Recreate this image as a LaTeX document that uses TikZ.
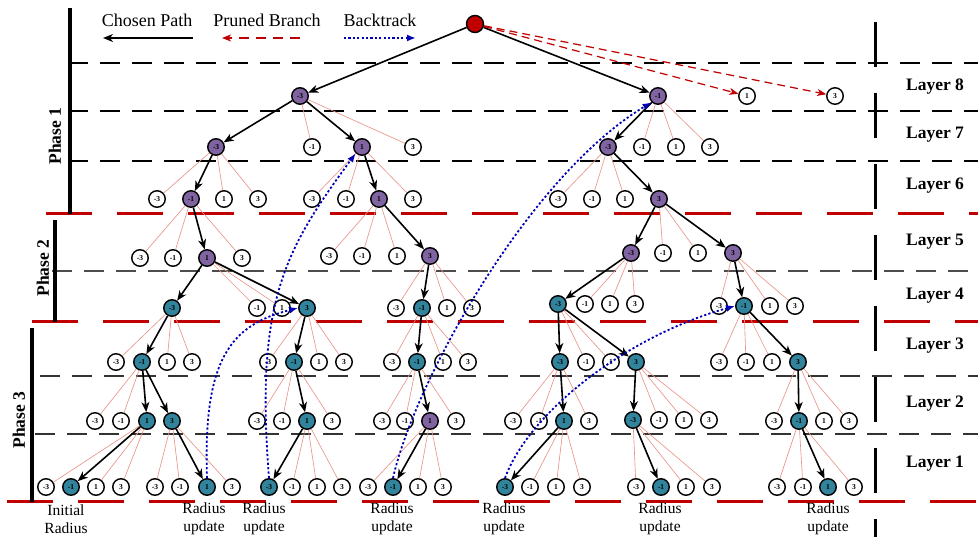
\documentclass[tikz,border=0pt]{standalone}
\usepackage{fontspec}
\setmainfont{Liberation Serif}
\usetikzlibrary{arrows.meta}
\definecolor{purp}{HTML}{8064A2}
\definecolor{tealn}{HTML}{31849B}
\definecolor{rootred}{HTML}{C00000}
\definecolor{twigred}{HTML}{E8958A}
\definecolor{btblue}{HTML}{0000B4}
\begin{document}
\begin{tikzpicture}[x=1pt,y=-1pt,
  nd/.style={circle,draw=black,line width=1.4pt,minimum size=16.5pt,inner sep=0pt,fill=white,
             font=\fontsize{7.5}{7.5}\selectfont\bfseries},
  pu/.style={nd,fill=purp},
  te/.style={nd,fill=tealn},
  chosen/.style={draw=black,line width=1.6pt,-{Stealth[length=10pt,width=8pt,inset=3pt]}},
  twig/.style={draw=twigred,line width=0.65pt},
  pruned/.style={draw=rootred,line width=1.2pt,dash pattern=on 8pt off 5pt,
                 -{Stealth[length=9pt,width=7pt,inset=2.5pt]}},
  back/.style={draw=btblue,line width=1.8pt,dash pattern=on 2.2pt off 2.2pt,
               -{Latex[length=9pt,width=7pt]}},
  layerline/.style={line width=1.3pt,dash pattern=on 20pt off 12pt},
  phaseline/.style={draw=rootred,line width=3pt,dash pattern=on 46pt off 25pt},
  phasebar/.style={line width=3.5pt},
  phaselabel/.style={rotate=90,font=\bfseries\fontsize{17.5}{18}\selectfont},
  layerlabel/.style={font=\bfseries\fontsize{17.5}{18}\selectfont},
  legendtext/.style={anchor=base,font=\fontsize{18}{20}\selectfont},
  radlabel/.style={align=center,font=\fontsize{15.5}{18.5}\selectfont}
]
\useasboundingbox (0,0) rectangle (978,537);

% ---------- layer separators ----------
\draw[layerline] (68,63) -- (978,63);
\draw[layerline] (68,111) -- (978,111);
\draw[layerline] (68,161) -- (978,161);
\draw[phaseline] (46,214) -- (978,214);
\draw[layerline,draw=black!70] (52,271) -- (978,271);
\draw[phaseline] (32,322) -- (978,322);
\draw[layerline,draw=black!80] (40,376) -- (978,376);
\draw[layerline,draw=black!80] (35,434) -- (978,434);
\draw[phaseline] (7,501) -- (978,501);

% right-hand divider
\draw[line width=3pt,dash pattern=on 45pt off 26pt] (875,22) -- (875,537);

% ---------- phases ----------
\draw[phasebar] (70,8) -- (70,214);
\draw[phasebar] (55,220) -- (55,322);
\draw[phasebar] (32,328) -- (32,502);
\node[phaselabel] (ph1) at (55,136) {Phase 1};
\node[phaselabel] (ph2) at (43,268) {Phase 2};
\node[phaselabel] (ph3) at (19,420) {Phase 3};

% ---------- layer labels ----------
\node[layerlabel] (lay8) at (935,87) {Layer 8};
\node[layerlabel] (lay7) at (935,135) {Layer 7};
\node[layerlabel] (lay6) at (935,186) {Layer 6};
\node[layerlabel] (lay5) at (935,242) {Layer 5};
\node[layerlabel] (lay4) at (935,296) {Layer 4};
\node[layerlabel] (lay3) at (935,346) {Layer 3};
\node[layerlabel] (lay2) at (935,404) {Layer 2};
\node[layerlabel] (lay1) at (935,464) {Layer 1};

% ---------- legend ----------
\node[legendtext] (lgchosen) at (147,27) {Chosen Path};
\node[legendtext] (lgpruned) at (267,27) {Pruned Branch};
\node[legendtext] (lgback) at (380,27) {Backtrack};
\coordinate (lga1) at (193,38); \coordinate (lga2) at (103,38);
\coordinate (lgb1) at (300,38); \coordinate (lgb2) at (222,38);
\coordinate (lgc1) at (344,38); \coordinate (lgc2) at (416,38);
\draw[chosen] (lga1) -- (lga2);
\draw[pruned,dash pattern=on 10pt off 7pt] (lgb1) -- (lgb2);
\draw[back] (lgc1) -- (lgc2);

% ---------- tree nodes ----------
\node[nd,fill=rootred,minimum size=17pt] (root) at (475,24) {};

% layer 8
\node[pu] (p8a) at (300,96) {-3};
\node[pu] (p8b) at (658,96) {-1};
\node[nd] (w8c) at (747,96) {1};
\node[nd] (w8d) at (835,96) {3};

% layer 7
\node[pu] (n7a) at (216,147) {-3};
\node[nd] (n7b) at (312,147) {-1};
\node[pu] (n7c) at (362,147) {1};
\node[nd] (n7d) at (413,147) {3};
\node[pu] (n7e) at (608,147) {-3};
\node[nd] (n7f) at (642,147) {-1};
\node[nd] (n7g) at (676,147) {1};
\node[nd] (n7h) at (710,147) {3};

% layer 6
\node[nd] (n6a) at (157,199) {-3};
\node[pu] (n6b) at (191,199) {-1};
\node[nd] (n6c) at (224,199) {1};
\node[nd] (n6d) at (258,199) {3};
\node[nd] (n6e) at (312,199) {-3};
\node[nd] (n6f) at (346,199) {-1};
\node[pu] (n6g) at (379,199) {1};
\node[nd] (n6h) at (413,199) {3};
\node[nd] (n6i) at (558,199) {-3};
\node[nd] (n6j) at (592,199) {-1};
\node[nd] (n6k) at (625,199) {1};
\node[pu] (n6l) at (659,199) {3};

% layer 5
\node[nd] (n5a) at (140,258) {-3};
\node[nd] (n5b) at (173,258) {-1};
\node[pu] (n5c) at (207,258) {1};
\node[nd] (n5d) at (242,258) {3};
\node[nd] (n5e) at (329,256) {-3};
\node[nd] (n5f) at (362,256) {-1};
\node[nd] (n5g) at (397,256) {1};
\node[pu] (n5h) at (430,256) {3};
\node[pu] (n5i) at (631,253) {-3};
\node[nd] (n5j) at (663,253) {-1};
\node[nd] (n5k) at (698,253) {1};
\node[pu] (n5l) at (733,253) {3};

% layer 4
\node[te] (n4a) at (172,308) {-3};
\node[nd] (n4b) at (257,308) {-1};
\node[nd] (n4c) at (282,308) {1};
\node[te] (n4d) at (307,308) {3};
\node[nd] (n4e) at (396,308) {-3};
\node[te] (n4f) at (422,308) {-1};
\node[nd] (n4g) at (447,308) {1};
\node[nd] (n4h) at (472,308) {3};
\node[te] (n4i) at (558,304) {-3};
\node[nd] (n4j) at (585,304) {-1};
\node[nd] (n4k) at (610,304) {1};
\node[nd] (n4l) at (635,304) {3};
\node[nd] (n4m) at (719,306) {-3};
\node[te] (n4n) at (744,306) {-1};
\node[nd] (n4o) at (770,306) {1};
\node[nd] (n4p) at (795,306) {3};

% layer 3
\node[nd] (n3a) at (116,362) {-3};
\node[te] (n3b) at (142,362) {-1};
\node[nd] (n3c) at (167,362) {1};
\node[nd] (n3d) at (192,362) {3};
\node[nd] (n3e) at (268,362) {-3};
\node[te] (n3f) at (294,362) {-1};
\node[nd] (n3g) at (319,362) {1};
\node[nd] (n3h) at (344,362) {3};
\node[nd] (n3i) at (392,362) {-3};
\node[te] (n3j) at (417,362) {-1};
\node[nd] (n3k) at (443,362) {1};
\node[nd] (n3l) at (468,362) {3};
\node[te] (n3m) at (560,362) {-3};
\node[nd] (n3n) at (586,362) {-1};
\node[nd] (n3o) at (611,362) {1};
\node[te] (n3p) at (636,362) {3};
\node[nd] (n3q) at (719,362) {-3};
\node[nd] (n3r) at (746,362) {-1};
\node[nd] (n3s) at (772,362) {1};
\node[te] (n3t) at (798,362) {3};

% layer 2
\node[nd] (n2a) at (95,421) {-3};
\node[nd] (n2b) at (121,421) {-1};
\node[te] (n2c) at (147,421) {1};
\node[te] (n2d) at (172,421) {3};
\node[nd] (n2e) at (257,421) {-3};
\node[nd] (n2f) at (282,421) {-1};
\node[te] (n2g) at (307,421) {1};
\node[nd] (n2h) at (332,421) {3};
\node[nd] (n2i) at (382,421) {-3};
\node[nd] (n2j) at (405,421) {-1};
\node[pu] (n2k) at (430,421) {1};
\node[nd] (n2l) at (456,421) {3};
\node[nd] (n2m) at (513,421) {-3};
\node[nd] (n2n) at (539,421) {-1};
\node[te] (n2o) at (564,421) {1};
\node[nd] (n2p) at (589,421) {3};
\node[te] (n2q) at (633,420) {-3};
\node[nd] (n2r) at (659,420) {-1};
\node[nd] (n2s) at (684,420) {1};
\node[nd] (n2t) at (709,420) {3};
\node[nd] (n2u) at (774,421) {-3};
\node[te] (n2v) at (799,421) {-1};
\node[nd] (n2w) at (824,421) {1};
\node[nd] (n2x) at (849,421) {3};

% layer 1
\node[nd] (n1a) at (46,487) {-3};
\node[te] (n1b) at (71,487) {-1};
\node[nd] (n1c) at (96,487) {1};
\node[nd] (n1d) at (121,487) {3};
\node[nd] (n1e) at (155,487) {-3};
\node[nd] (n1f) at (180,487) {-1};
\node[te] (n1g) at (207,487) {1};
\node[nd] (n1h) at (232,487) {3};
\node[te] (n1i) at (269,487) {-3};
\node[nd] (n1j) at (292,487) {-1};
\node[nd] (n1k) at (317,487) {1};
\node[nd] (n1l) at (342,487) {3};
\node[nd] (n1m) at (368,487) {-3};
\node[te] (n1n) at (393,487) {-1};
\node[nd] (n1o) at (418,487) {1};
\node[nd] (n1p) at (443,487) {3};
\node[te] (n1q) at (505,487) {-3};
\node[nd] (n1r) at (530,487) {-1};
\node[nd] (n1s) at (556,487) {1};
\node[nd] (n1t) at (582,487) {3};
\node[nd] (n1u) at (636,487) {-3};
\node[te] (n1v) at (661,487) {-1};
\node[nd] (n1w) at (686,487) {1};
\node[nd] (n1x) at (712,487) {3};
\node[nd] (n1y) at (777,487) {-3};
\node[nd] (n1z) at (803,487) {-1};
\node[te] (n1aa) at (828,487) {1};
\node[nd] (n1ab) at (854,487) {3};

% ---------- discarded children ----------
\foreach \p/\c in {p8a/n7b,p8a/n7d,p8b/n7f,p8b/n7g,p8b/n7h,
  n7a/n6a,n7a/n6c,n7a/n6d,n7c/n6e,n7c/n6f,n7c/n6h,n7e/n6i,n7e/n6j,n7e/n6k,
  n6b/n5a,n6b/n5b,n6b/n5d,n6g/n5e,n6g/n5f,n6g/n5g,n6l/n5j,n6l/n5k,
  n5c/n4b,n5c/n4c,n5h/n4e,n5h/n4g,n5h/n4h,n5i/n4j,n5i/n4k,n5i/n4l,n5l/n4m,n5l/n4o,n5l/n4p,
  n4a/n3a,n4a/n3c,n4a/n3d,n4d/n3e,n4d/n3g,n4d/n3h,n4f/n3i,n4f/n3k,n4f/n3l,
  n4i/n3n,n4i/n3o,n4n/n3q,n4n/n3r,n4n/n3s,
  n3b/n2a,n3b/n2b,n3f/n2e,n3f/n2f,n3f/n2h,n3j/n2i,n3j/n2j,n3j/n2l,
  n3m/n2m,n3m/n2n,n3m/n2p,n3p/n2r,n3p/n2s,n3p/n2t,n3t/n2u,n3t/n2w,n3t/n2x,
  n2c/n1a,n2c/n1c,n2c/n1d,n2d/n1e,n2d/n1f,n2d/n1h,n2g/n1j,n2g/n1k,n2g/n1l,
  n2k/n1m,n2k/n1o,n2k/n1p,n2o/n1r,n2o/n1s,n2o/n1t,n2q/n1u,n2q/n1w,n2q/n1x,
  n2v/n1y,n2v/n1z,n2v/n1ab}
  \draw[twig] (\p) -- (\c);

% ---------- chosen path ----------
\foreach \p/\c in {root/p8a,root/p8b,p8a/n7a,p8a/n7c,p8b/n7e,
  n7a/n6b,n7c/n6g,n7e/n6l,n6b/n5c,n6g/n5h,n6l/n5i,n6l/n5l,
  n5c/n4a,n5c/n4d,n5h/n4f,n5i/n4i,n5l/n4n,
  n4a/n3b,n4d/n3f,n4f/n3j,n4i/n3m,n4i/n3p,n4n/n3t,
  n3b/n2c,n3b/n2d,n3f/n2g,n3j/n2k,n3m/n2o,n3p/n2q,n3t/n2v,
  n2c/n1b,n2d/n1g,n2g/n1i,n2k/n1n,n2o/n1q,n2q/n1v,n2v/n1aa}
  \draw[chosen] (\p) -- (\c);

% ---------- pruned at the root ----------
\draw[pruned] (root) -- (w8c);
\draw[pruned] (root) -- (w8d);

% ---------- backtracking ----------
\draw[back] (n1g.north) .. controls (203,360) and (230,325) .. (n4d.west);
\draw[back] (n1i.north) .. controls (255,300) and (285,250) .. (n7c.south west);
\draw[back] (n1n.north) .. controls (415,380) and (530,175) .. (p8b.south west);
\draw[back] (n1q.north) .. controls (530,410) and (630,335) .. (n4n.west);

% ---------- radius annotations ----------
\node[radlabel] (rad0) at (66,519) {Initial\\Radius};
\node[radlabel] (rad1) at (204,519) {Radius\\update};
\node[radlabel] (rad2) at (264,519) {Radius\\update};
\node[radlabel] (rad3) at (392,519) {Radius\\update};
\node[radlabel] (rad4) at (504,519) {Radius\\update};
\node[radlabel] (rad5) at (660,519) {Radius\\update};
\node[radlabel] (rad6) at (828,519) {Radius\\update};
\end{tikzpicture}
\end{document}
